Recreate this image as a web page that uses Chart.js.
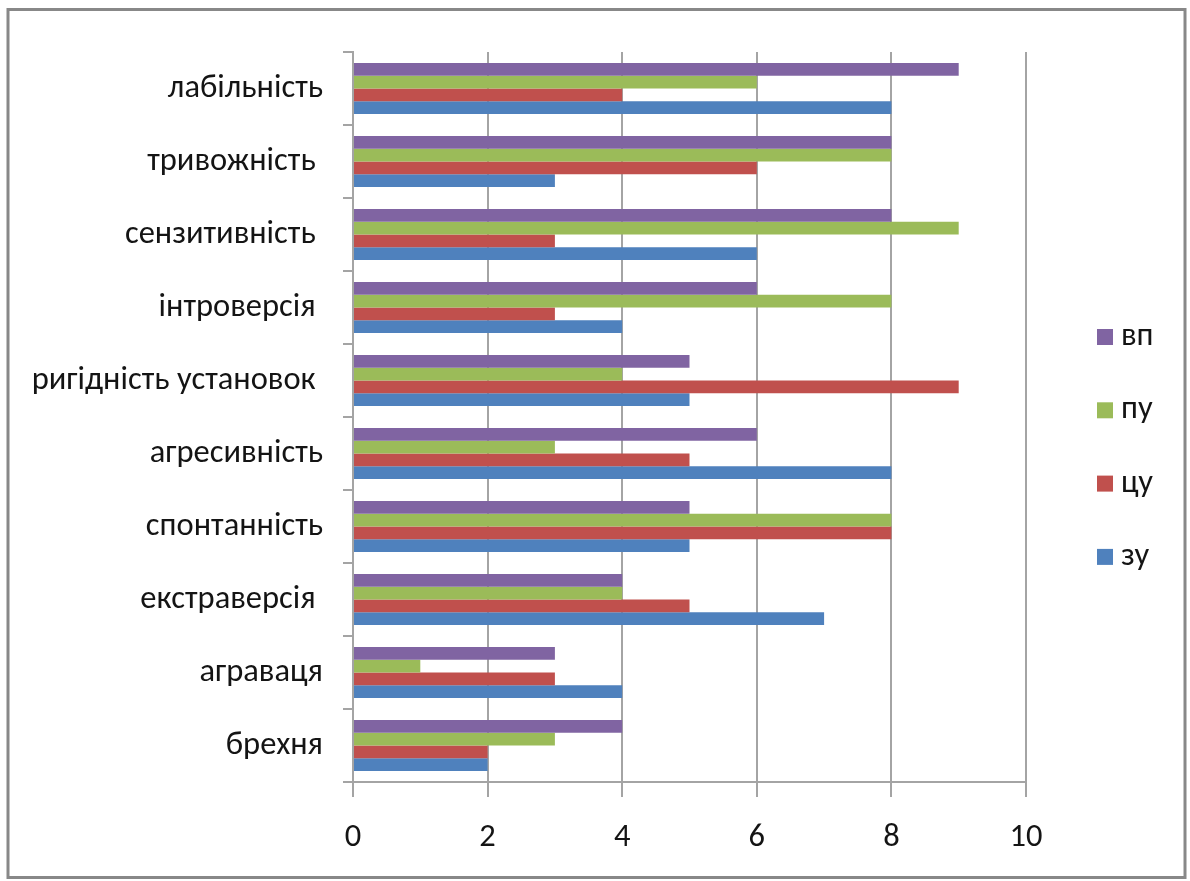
<!DOCTYPE html>
<html>
<head>
<meta charset="utf-8">
<script src="https://cdn.jsdelivr.net/npm/chart.js@4/dist/chart.umd.min.js"></script>
<style>
  html, body { margin: 0; padding: 0; background: #fff; }
  #wrap { width: 1190px; height: 881px; position: relative; }
</style>
</head>
<body>
<div id="wrap"><canvas id="c"></canvas></div>
<script>
// Personality scales, listed top to bottom
const categories = [
  'лабільність',
  'тривожність ',
  'сензитивність ',
  'інтроверсія ',
  'ригідність установок ',
  'агресивність',
  'спонтанність',
  'екстраверсія ',
  'аграваця',
  'брехня'
];

const seriesNames = ['вп', 'пу', 'цу', 'зу'];

const vp = [9, 8, 8, 6, 5, 6, 5, 4, 3, 4];
const pu = [6, 8, 9, 8, 4, 3, 8, 4, 1, 3];
const tsu = [4, 6, 3, 3, 9, 5, 8, 5, 3, 2];
const zu = [8, 3, 6, 4, 5, 8, 5, 7, 4, 2];

const xTicks = [0, 2, 4, 6, 8, 10];

const colors = ['#8064A2', '#9BBB59', '#C0504D', '#4F81BD'];
const FONT = 'Carlito, Lato, sans-serif';
const FONT_SIZE = 32.5;
const TEXT = '#141414';
const GRID = '#a4a4a4';

// Outer frame around the whole figure
const framePlugin = {
  id: 'frame',
  beforeDraw(chart) {
    const ctx = chart.ctx;
    ctx.save();
    ctx.fillStyle = '#ffffff';
    ctx.fillRect(0, 0, chart.width, chart.height);
    ctx.strokeStyle = '#888888';
    ctx.lineWidth = 3;
    ctx.strokeRect(8, 9.5, 1177, 868);
    ctx.restore();
  }
};

// Legend column on the right, one square swatch per series
const sideLegend = {
  id: 'sideLegend',
  afterDraw(chart) {
    const ctx = chart.ctx;
    const x0 = 1097, y0 = 337, step = 73.3, box = 16;
    ctx.save();
    ctx.font = FONT_SIZE + 'px ' + FONT;
    ctx.textBaseline = 'middle';
    ctx.textAlign = 'left';
    chart.data.datasets.forEach((ds, i) => {
      const cy = y0 + i * step;
      ctx.fillStyle = ds.backgroundColor;
      ctx.fillRect(x0, cy - box / 2, box, box);
      ctx.fillStyle = TEXT;
      ctx.fillText(ds.label, x0 + box + 8, cy);
    });
    ctx.restore();
  }
};

const seriesData = [vp, pu, tsu, zu];

new Chart(document.getElementById('c'), {
  type: 'bar',
  data: {
    labels: categories,
    datasets: seriesNames.map((name, i) => ({
      label: name,
      data: seriesData[i],
      backgroundColor: colors[i],
      borderWidth: 0,
      categoryPercentage: 0.7,
      barPercentage: 1.0
    }))
  },
  options: {
    indexAxis: 'y',
    responsive: true,
    maintainAspectRatio: false,
    animation: false,
    layout: { padding: { top: 52, right: 164, bottom: 0, left: 0 } },
    plugins: {
      legend: { display: false },
      tooltip: { enabled: false }
    },
    scales: {
      x: {
        min: 0,
        max: 10,
        afterBuildTicks(scale) {
          scale.ticks = xTicks.map(v => ({ value: v }));
        },
        afterFit(scale) { scale.height = 99; },
        grid: {
          color: GRID,
          lineWidth: 2,
          drawTicks: true,
          tickLength: 15,
          tickColor: GRID
        },
        border: { display: true, color: GRID, width: 2 },
        ticks: {
          padding: 21,
          color: TEXT,
          font: { family: FONT, size: FONT_SIZE }
        }
      },
      y: {
        afterFit(scale) { scale.width = 353; },
        grid: {
          offset: true,
          drawOnChartArea: false,
          drawTicks: true,
          tickLength: 10,
          color: GRID,
          lineWidth: 2
        },
        border: { display: true, color: GRID, width: 2 },
        ticks: {
          padding: 20,
          color: TEXT,
          font: { family: FONT, size: FONT_SIZE }
        }
      }
    }
  },
  plugins: [framePlugin, sideLegend]
});
</script>
</body>
</html>
